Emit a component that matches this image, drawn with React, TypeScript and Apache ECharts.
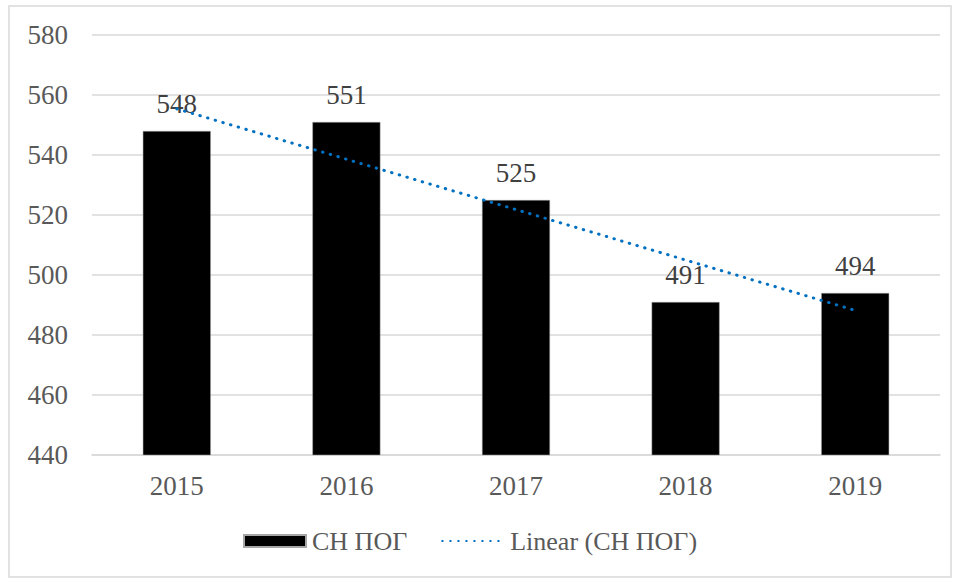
import React, { useEffect, useRef } from "react";
import * as echarts from "echarts";

const categories = ["2015", "2016", "2017", "2018", "2019"];
const barValues = [548, 551, 525, 491, 494];
const trendValues = [555.4, null, null, null, 488.2];
const barName = "СН ПОГ";
const trendName = "Linear (СН ПОГ)";

export default function App() {
  const ref = useRef<HTMLDivElement>(null);
  useEffect(() => {
    const chart = echarts.init(ref.current!, null, { renderer: "svg" });
    const font = "Liberation Serif";
    chart.setOption({
      animation: false,
      backgroundColor: "#ffffff",
      textStyle: { fontFamily: font },
      grid: { left: 92, right: 19, top: 35, bottom: 126 },
      graphic: [
        {
          type: "rect",
          shape: { x: 9, y: 6, width: 942, height: 571 },
          style: { fill: "none", stroke: "#d9d9d9", lineWidth: 1.5 },
          silent: true,
        },
      ],
      legend: {
        top: 528,
        left: 243,
        padding: 0,
        itemGap: 34,
        itemWidth: 62,
        itemHeight: 12,
        textStyle: { fontFamily: font, fontSize: 26, color: "#595959", padding: [0, 0, 0, 1] },
        data: [
          { name: barName, icon: "rect" },
          { name: trendName, itemStyle: { opacity: 0 } },
        ],
      },
      xAxis: {
        type: "category",
        data: categories,
        axisLine: { show: true, lineStyle: { color: "#d9d9d9", width: 1.5 } },
        axisTick: { show: false },
        axisLabel: { fontFamily: font, fontSize: 27, color: "#595959", margin: 17 },
      },
      yAxis: {
        type: "value",
        min: 440,
        max: 580,
        interval: 20,
        axisLine: { show: false },
        axisTick: { show: false },
        splitLine: { lineStyle: { color: "#d9d9d9", width: 1.5 } },
        axisLabel: { fontFamily: font, fontSize: 27, color: "#595959", margin: 24 },
      },
      series: [
        {
          name: barName,
          type: "bar",
          data: barValues,
          barWidth: 68,
          itemStyle: { color: "#000000", borderColor: "#a6a6a6", borderWidth: 0.5 },
          label: {
            show: true,
            position: "top",
            distance: 14,
            fontFamily: font,
            fontSize: 27,
            color: "#404040",
          },
        },
        {
          name: trendName,
          type: "line",
          data: trendValues,
          connectNulls: true,
          symbol: "none",
          lineStyle: { color: "#0070c0", width: 3, type: [0.5, 7.5], cap: "round" },
          itemStyle: { color: "#0070c0" },
          z: 5,
        },
      ],
    });
    return () => chart.dispose();
  }, []);
  return (
    <div
      ref={ref}
      style={{ position: "fixed", left: 0, top: 0, width: 959, height: 581 }}
    />
  );
}
